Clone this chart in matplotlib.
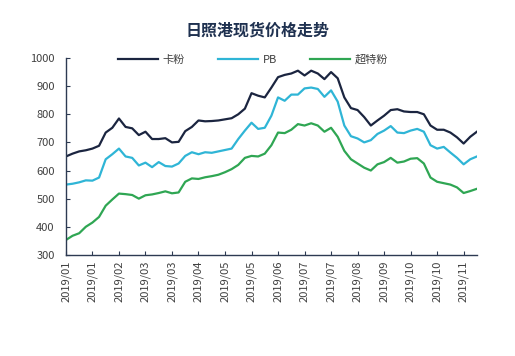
import numpy as np
import matplotlib.pyplot as plt

plt.rcParams['font.family'] = ['Noto Sans CJK SC', 'DejaVu Sans']

TITLE = '日照港现货价格走势'
SERIES_NAMES = ['卡粉', 'PB', '超特粉']
TICK_LABELS = ['2019/01', '2019/01', '2019/02', '2019/03', '2019/03', '2019/04',
               '2019/05', '2019/05', '2019/06', '2019/07', '2019/07', '2019/08',
               '2019/09', '2019/10', '2019/10', '2019/11']

# values, about five days apart
kafen = [650, 660, 668, 672, 678, 688, 735, 752, 785, 755,
         750, 726, 738, 712, 712, 715, 700, 702, 740, 755,
         778, 775, 776, 778, 782, 786, 800, 820, 875, 866,
         860, 895, 932, 940, 945, 955, 938, 955, 945, 925,
         950, 928, 860, 822, 815, 790, 760, 778, 795, 815,
         818, 810, 808, 808, 800, 760, 745, 745, 735, 718,
         696, 720, 738]
pb = [550, 553, 558, 565, 564, 575, 640, 658, 678, 650,
      645, 618, 628, 612, 630, 616, 614, 625, 652, 665,
      658, 665, 663, 668, 673, 678, 712, 742, 770, 748,
      752, 795, 860, 848, 870, 870, 892, 895, 890, 862,
      885, 845, 760, 722, 714, 700, 708, 730, 742, 758,
      735, 733, 742, 748, 738, 690, 678, 684, 664, 645,
      622, 640, 650]
chaotefen = [353, 368, 377, 400, 415, 435, 475, 497, 518, 516,
             513, 500, 512, 515, 520, 526, 519, 522, 560, 572,
             570, 576, 580, 585, 594, 605, 620, 645, 652, 650,
             660, 690, 735, 733, 745, 765, 760, 768, 760, 738,
             752, 720, 670, 640, 625, 610, 600, 622, 630, 645,
             628, 632, 642, 644, 625, 575, 560, 555, 550, 540,
             520, 527, 535]

COLORS = ['#1b2540', '#2fb5d6', '#2fa653']
AXIS_COLOR = '#2d3a52'
TEXT_COLOR = '#404040'

fig = plt.figure(figsize=(5.15, 3.56), dpi=100)
ax = fig.add_axes([0.128, 0.284, 0.798, 0.553])

x = np.arange(len(kafen))
for vals, name, col in zip([kafen, pb, chaotefen], SERIES_NAMES, COLORS):
    ax.plot(x, vals, color=col, lw=1.6, label=name)

ax.set_xlim(0, len(kafen) - 1)
ax.set_ylim(300, 1000)
ax.set_yticks(np.arange(300, 1001, 100))
ax.set_xticks(np.arange(0, 4 * len(TICK_LABELS), 4))
ax.set_xticklabels(TICK_LABELS, rotation=90)

for side in ['top', 'right']:
    ax.spines[side].set_visible(False)
for side in ['left', 'bottom']:
    ax.spines[side].set_color(AXIS_COLOR)
    ax.spines[side].set_linewidth(1.0)
ax.tick_params(direction='in', length=3, color=AXIS_COLOR, labelsize=8,
               labelcolor=TEXT_COLOR)
ax.tick_params(axis='y', pad=8)
ax.tick_params(axis='x', pad=4)

fig.text(0.5, 0.915, TITLE, ha='center', va='center', fontsize=11.5,
         fontweight='bold', color='#1f3150')

ax.legend(loc='upper center', bbox_to_anchor=(0.455, 1.07), ncol=3, frameon=False,
          fontsize=8, handlelength=3.6, columnspacing=3.0, handletextpad=0.4,
          labelcolor=TEXT_COLOR)

fig.savefig('out.png', dpi=100, facecolor='white')
